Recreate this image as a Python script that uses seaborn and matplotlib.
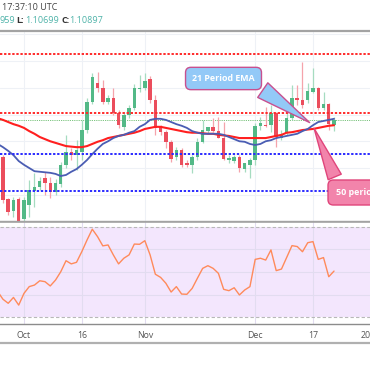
import numpy as np
import pandas as pd
import matplotlib
matplotlib.use('Agg')
import matplotlib.pyplot as plt
from matplotlib.lines import Line2D
import seaborn as sns

# EURUSD daily bars, Sep 24 2019 .. Dec 23 2019 (bar 0 only feeds the indicator lines)
dates = pd.bdate_range('2019-09-24', '2019-12-23')

opens = [1.1021, 1.0942, 1.0920, 1.0942, 1.0905, 1.0931, 1.0957, 1.0964, 1.0981, 1.0972,
         1.0955, 1.0970, 1.1006, 1.1030, 1.1024, 1.1030, 1.1071, 1.1124, 1.1159, 1.1150,
         1.1124, 1.1131, 1.1103, 1.1077, 1.1099, 1.1112, 1.1148, 1.1150, 1.1166, 1.1127,
         1.1077, 1.1067, 1.1049, 1.1021, 1.1034, 1.1009, 1.1006, 1.1021, 1.1049, 1.1069,
         1.1077, 1.1069, 1.1056, 1.1015, 1.1013, 1.1021, 1.0998, 1.1006, 1.1015, 1.1079,
         1.1080, 1.1080, 1.1103, 1.1056, 1.1066, 1.1094, 1.1131, 1.1127, 1.1127, 1.1142,
         1.1150, 1.1112, 1.1120, 1.1080]
highs = [1.1024, 1.0944, 1.0946, 1.0946, 1.0946, 1.0978, 1.0991, 1.0983, 1.0993, 1.0983,
         1.0979, 1.1011, 1.1062, 1.1037, 1.1052, 1.1090, 1.1131, 1.1178, 1.1180, 1.1165,
         1.1137, 1.1150, 1.1109, 1.1105, 1.1118, 1.1157, 1.1174, 1.1178, 1.1172, 1.1137,
         1.1080, 1.1071, 1.1052, 1.1039, 1.1037, 1.1015, 1.1024, 1.1056, 1.1090, 1.1077,
         1.1094, 1.1096, 1.1086, 1.1024, 1.1024, 1.1024, 1.1009, 1.1019, 1.1084, 1.1095,
         1.1114, 1.1118, 1.1105, 1.1071, 1.1105, 1.1155, 1.1155, 1.1198, 1.1159, 1.1187,
         1.1152, 1.1142, 1.1122, 1.1096]
lows = [1.0935, 1.0912, 1.0908, 1.0884, 1.0880, 1.0908, 1.0927, 1.0959, 1.0950, 1.0944,
        1.0950, 1.0965, 1.1000, 1.1015, 1.0996, 1.1015, 1.1066, 1.1120, 1.1142, 1.1120,
        1.1120, 1.1099, 1.1075, 1.1071, 1.1094, 1.1109, 1.1142, 1.1146, 1.1122, 1.1062,
        1.1062, 1.1037, 1.1011, 1.1015, 1.1002, 1.1002, 1.0991, 1.1015, 1.1047, 1.1066,
        1.1067, 1.1056, 1.1015, 1.1009, 1.1009, 1.0993, 1.0993, 1.0981, 1.1006, 1.1071,
        1.1077, 1.1067, 1.1039, 1.1052, 1.1062, 1.1090, 1.1118, 1.1112, 1.1122, 1.1140,
        1.1108, 1.1108, 1.1071, 1.10699]
closes = [1.0940, 1.0918, 1.0940, 1.0899, 1.0940, 1.0959, 1.0965, 1.0976, 1.0972, 1.0955,
          1.0972, 1.1006, 1.1030, 1.1024, 1.1034, 1.1071, 1.1124, 1.1170, 1.1150, 1.1124,
          1.1131, 1.1103, 1.1080, 1.1099, 1.1112, 1.1150, 1.1150, 1.1163, 1.1127, 1.1075,
          1.1067, 1.1049, 1.1017, 1.1034, 1.1006, 1.1006, 1.1021, 1.1049, 1.1071, 1.1077,
          1.1069, 1.1056, 1.1017, 1.1019, 1.1021, 1.1000, 1.1009, 1.1015, 1.1079, 1.1084,
          1.1079, 1.1103, 1.1058, 1.1062, 1.1094, 1.1131, 1.1127, 1.1118, 1.1144, 1.1150,
          1.1112, 1.1120, 1.1082, 1.10897]

ema21 = [1.1045, 1.1039, 1.1032, 1.1024, 1.1013, 1.1006, 1.1000, 1.0994, 1.0993, 1.0992,
         1.0991, 1.0989, 1.0985, 1.0987, 1.0993, 1.0998, 1.1006, 1.1015, 1.1026, 1.1036,
         1.1045, 1.1050, 1.1056, 1.1060, 1.1062, 1.1066, 1.1069, 1.1077, 1.1082, 1.1090,
         1.1092, 1.1092, 1.1090, 1.1086, 1.1082, 1.1079, 1.1075, 1.1069, 1.1066, 1.1064,
         1.1064, 1.1064, 1.1064, 1.1062, 1.1058, 1.1054, 1.1050, 1.1049, 1.1045, 1.1043,
         1.1045, 1.1050, 1.1052, 1.1056, 1.1058, 1.1060, 1.1062, 1.1064, 1.1069, 1.1073,
         1.1080, 1.1086, 1.1088, 1.1090, 1.1092]
ema50 = [1.1093, 1.1090, 1.1086, 1.1082, 1.1079, 1.1075, 1.1069, 1.1064, 1.1058, 1.1054,
         1.1050, 1.1047, 1.1044, 1.1041, 1.1040, 1.1039, 1.1039, 1.1041, 1.1045, 1.1049,
         1.1052, 1.1056, 1.1058, 1.1060, 1.1062, 1.1064, 1.1066, 1.1069, 1.1073, 1.1075,
         1.1077, 1.1077, 1.1075, 1.1073, 1.1071, 1.1069, 1.1067, 1.1066, 1.1066, 1.1065,
         1.1064, 1.1064, 1.1062, 1.1061, 1.1060, 1.1058, 1.1056, 1.1056, 1.1056, 1.1056,
         1.1056, 1.1056, 1.1058, 1.1060, 1.1062, 1.1066, 1.1067, 1.1069, 1.1071, 1.1072,
         1.1073, 1.1075, 1.1077, 1.1079, 1.1080]
rsi = [41.3, 37.9, 36.1, 38.7, 35.3, 40.5, 43.5, 44.2, 46.1, 45.7,
       43.8, 46.4, 50.1, 55.0, 53.6, 54.3, 59.0, 64.2, 69.0, 65.7,
       61.6, 62.0, 57.6, 53.6, 56.1, 57.6, 62.4, 62.3, 63.9, 57.6,
       49.0, 47.6, 45.0, 41.1, 43.5, 40.2, 40.1, 42.7, 47.2, 51.6,
       52.8, 51.6, 49.4, 42.3, 41.7, 43.0, 39.8, 42.0, 43.5, 55.6,
       56.1, 55.3, 59.8, 50.6, 51.3, 56.5, 61.7, 61.3, 59.0, 63.0,
       63.5, 55.6, 56.4, 47.9, 50.4]

resistance = [1.1213, 1.1103]
support = [1.1026, 1.0957]
last_price = 1.10897

tick_dates = ['2019-10-01', '2019-10-16', '2019-11-01', '2019-12-02', '2019-12-17', '2020-01-01']
tick_labels = ['Oct', '16', 'Nov', 'Dec', '17', '2020']

# colours
UP, DOWN = '#53b987', '#eb4d5c'
UP_WICK, DOWN_WICK = '#a6dcc0', '#f5a3ab'
GRID = '#eef1f6'
BORDER = '#a3a3a3'
TEAL = '#4fb3a9'

sns.set_theme(style='white')
plt.rcParams['font.family'] = ['Open Sans', 'DejaVu Sans']

fig = plt.figure(figsize=(3.7, 3.7), dpi=100)
H = 370.0


def pane(top_px, bottom_px):
    # axes a bit wider than the figure so the "2020" tick sits on the cut edge
    return fig.add_axes([0, (H - bottom_px) / H, 380 / H, (bottom_px - top_px) / H])


ax = pane(31, 221)
ax2 = pane(222, 324)

idx = np.arange(len(dates))
cx = idx[1:]
o = np.array(opens)
c = np.array(closes)
up = c >= o

all_days = pd.bdate_range('2019-09-24', '2020-01-01')
tick_pos = all_days.get_indexer(pd.to_datetime(tick_dates))
x_left = 0.438
x_right = x_left + 380 / 5.255

# ---- price pane ----
ax.set_xlim(x_left, x_right)
ax.set_ylim(1.09009, 1.12562)
ax.set_yticks([1.095, 1.100, 1.105, 1.110, 1.115, 1.120, 1.125])
ax.set_xticks(tick_pos)
ax.tick_params(length=0, labelleft=False, labelbottom=False)
ax.grid(True, color=GRID, lw=0.8)
ax.set_axisbelow(True)

ax.vlines(cx, lows, highs, colors=np.where(up, UP_WICK, DOWN_WICK), lw=0.9, zorder=2)
ax.bar(cx, np.maximum(np.abs(c - o), 0.00015), bottom=np.minimum(o, c), width=0.66,
       color=np.where(up, UP, DOWN), lw=0, zorder=2.5)

sns.lineplot(x=idx, y=ema50, ax=ax, color='#ff1f1f', lw=1.5, zorder=3)
sns.lineplot(x=idx, y=ema21, ax=ax, color='#4a5db3', lw=1.3, zorder=3.2)

for lvl in resistance:
    ax.axhline(lvl, color='#ff2b2b', lw=1.4, ls=(0, (1.2, 0.9)), zorder=4)
for lvl in support:
    ax.axhline(lvl, color='#2b2bff', lw=1.4, ls=(0, (1.2, 0.9)), zorder=4)
ax.axhline(last_price, color='#4caf50', lw=0.6, ls=(0, (1, 1.2)), zorder=1.5)

ax.annotate('21 Period EMA', xy=(59.8, 1.1082), xytext=(42.97, 1.11674),
            ha='center', va='center', color='white', fontsize=6.4, fontweight='bold',
            bbox=dict(boxstyle='round,pad=0.75,rounding_size=0.6', fc='#93c9f7', ec='#c8508f', lw=1),
            arrowprops=dict(arrowstyle='wedge,tail_width=2.0,shrink_factor=0.5',
                            fc='#93c9f7', ec='#c8508f', lw=1, relpos=(0.9, 0.3)),
            zorder=6)
ax.annotate('50 period EMA', xy=(60.0, 1.1079), xytext=(64.38, 1.09542),
            ha='left', va='center', color='white', fontsize=6.4, fontweight='bold',
            bbox=dict(boxstyle='round,pad=0.9,rounding_size=0.6', fc='#f284ab', ec='#e0457b', lw=1),
            arrowprops=dict(arrowstyle='wedge,tail_width=1.6,shrink_factor=0.5',
                            fc='#f284ab', ec='#e0457b', lw=1, relpos=(0.06, 0.9)),
            zorder=6)

for side in ['left', 'right']:
    ax.spines[side].set_visible(False)
ax.spines['top'].set_color(BORDER)
ax.spines['top'].set_linewidth(1.6)
ax.spines['bottom'].set_color(BORDER)
ax.spines['bottom'].set_linewidth(1.0)

# ---- RSI pane ----
ax2.set_xlim(x_left, x_right)
ax2.set_ylim(26.9, 72.2)
ax2.axhspan(30, 70, color='#f3e6fd', lw=0, zorder=0)
ax2.set_yticks([40, 50, 60])
ax2.set_xticks(tick_pos)
ax2.set_xticklabels(tick_labels)
ax2.tick_params(length=0, labelleft=False, pad=5, labelsize=6.3, labelcolor='#555555')
ax2.grid(True, color='#e2dcf0', lw=0.8)
ax2.set_axisbelow(True)
for lvl in [30, 70]:
    ax2.axhline(lvl, color='#b8b8b8', lw=0.8, ls=(0, (3, 2)), zorder=1)
sns.lineplot(x=idx, y=rsi, ax=ax2, color='#ff8a5b', lw=1.0, zorder=3)
ax2.set_xlabel('')
ax2.set_ylabel('')
ax.set_xlabel('')
ax.set_ylabel('')
for side in ['left', 'right']:
    ax2.spines[side].set_visible(False)
ax2.spines['top'].set_color(BORDER)
ax2.spines['top'].set_linewidth(1.2)
ax2.spines['bottom'].set_color('#8c8c8c')
ax2.spines['bottom'].set_linewidth(1.0)

fig.add_artist(Line2D([0, 1], [(H - 343) / H] * 2, color='#b0b0b0', lw=1.6))

# ---- header ----
fig.text(2.5 / H, 1 - 8 / H, '17:37:10 UTC', fontsize=6.5, color='#444444', va='center')
y2 = 1 - 20.5 / H
fig.text(0 / H, y2, '959', fontsize=6.5, color=TEAL, va='center')
fig.text(16.5 / H, y2, 'L:', fontsize=6.5, color='#333333', fontweight='bold', va='center')
fig.text(25.5 / H, y2, '1.10699', fontsize=6.5, color=TEAL, va='center')
fig.text(61 / H, y2, 'C:', fontsize=6.5, color='#333333', fontweight='bold', va='center')
fig.text(69.5 / H, y2, '1.10897', fontsize=6.5, color=TEAL, va='center')

fig.savefig('out.png', dpi=100, facecolor='white')
